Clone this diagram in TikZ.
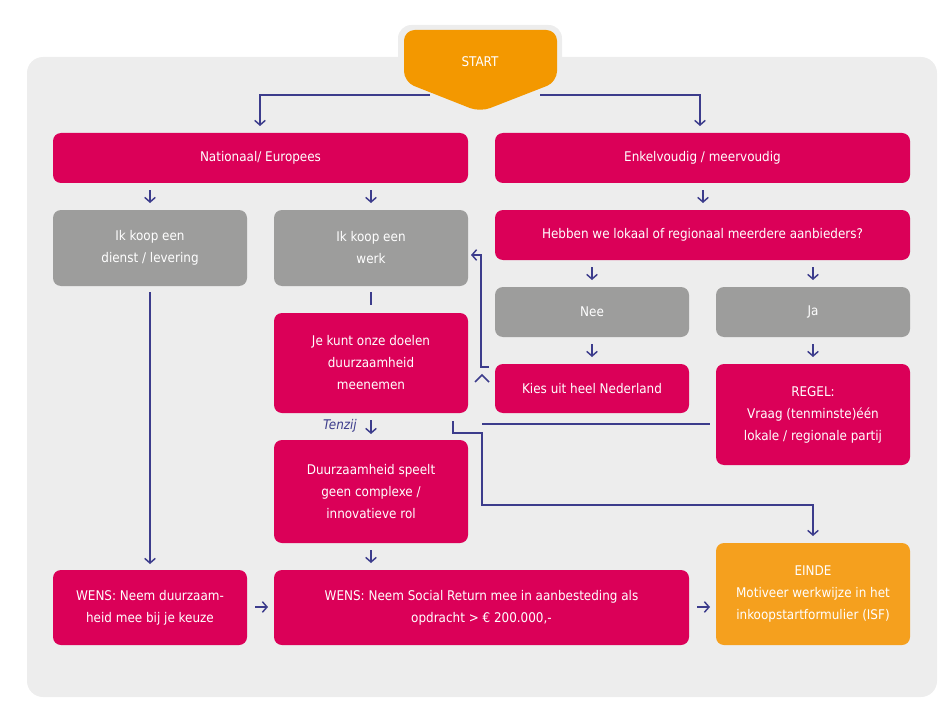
\documentclass[tikz,border=0pt]{standalone}
\usepackage{fontspec}
\setmainfont{DejaVu Sans Condensed}
\usetikzlibrary{arrows.meta}
\definecolor{mag}{HTML}{DB0058}
\definecolor{gry}{HTML}{9D9D9C}
\definecolor{org}{HTML}{F39800}
\definecolor{org2}{HTML}{F5A01E}
\definecolor{bgc}{HTML}{EDEDED}
\definecolor{ln}{HTML}{3C3C8C}
\newcommand\bx[7]{\node[box,fill=#2,minimum width={(#5-#3)*0.75pt},minimum height={(#6-#4)*0.75pt}] (#1) at ({(#3+#5)/2},{(#4+#6)/2}) {#7};}
\begin{document}
\begin{tikzpicture}[x=0.75pt,y=-0.75pt,
  box/.style={rounded corners=6pt,draw=none,text=white,align=center,inner sep=0pt,font=\fontsize{10}{16.5}\selectfont},
  con/.style={draw=ln,line width=1.1pt},
  arr/.style={con,-{Straight Barb[length=3.5pt,width=8pt,line width=1.1pt]}}]
\useasboundingbox (0,0) rectangle (949,706);
\fill[bgc,rounded corners=12pt] (27,57) rectangle (937,697);
\fill[bgc,rounded corners=10pt] (398,25) rectangle (562,70);
\fill[org,rounded corners=8pt] (404,30) -- (557,30) -- (557,82) -- (480,112) -- (404,82) -- cycle;
\node[box] (start) at (480,62) {START};
\bx{nat}{mag}{53}{133}{468}{183}{Nationaal/ Europees}
\bx{enk}{mag}{495}{133}{910}{183}{Enkelvoudig / meervoudig}
\bx{dienst}{gry}{53}{210}{247}{286}{Ik koop een\\dienst / levering}
\bx{werk}{gry}{274}{210}{468}{286}{Ik koop een\\werk}
\bx{heb}{mag}{495}{210}{910}{260}{Hebben we lokaal of regionaal meerdere aanbieders?}
\bx{nee}{gry}{495}{287}{689}{337}{Nee}
\bx{ja}{gry}{716}{287}{910}{337}{Ja}
\bx{jek}{mag}{274}{313}{468}{413}{Je kunt onze doelen\\duurzaamheid\\meenemen}
\bx{kies}{mag}{495}{364}{689}{413}{Kies uit heel Nederland}
\bx{regel}{mag}{716}{364}{910}{465}{REGEL:\\Vraag (tenminste)één\\lokale / regionale partij}
\bx{duur}{mag}{274}{440}{468}{543}{Duurzaamheid speelt\\geen complexe /\\innovatieve rol}
\bx{wensl}{mag}{53}{570}{247}{645}{WENS: Neem duurzaam-\\heid mee bij je keuze}
\bx{wensm}{mag}{274}{570}{689}{645}{WENS: Neem Social Return mee in aanbesteding als\\opdracht > € 200.000,-}
\bx{einde}{org2}{716}{543}{910}{645}{EINDE\\Motiveer werkwijze in het\\inkoopstartformulier (ISF)}
\draw[arr] (430,95) -- (260,95) -- (260,126);
\draw[arr] (540,95) -- (700,95) -- (700,126);
\draw[arr] (150,190) -- (150,203);
\draw[arr] (371,190) -- (371,203);
\draw[arr] (703,190) -- (703,203);
\draw[arr] (592,267) -- (592,280);
\draw[arr] (813,267) -- (813,280);
\draw[arr] (592,344) -- (592,357);
\draw[arr] (813,344) -- (813,357);
\draw[arr] (150,292) -- (150,564);
\draw[con] (371,292) -- (371,305);
\draw[arr] (489,367) -- (481,367) -- (481,255) -- (471,255);
\draw[con] (475,382) -- (482,375) -- (489,382);
\draw[con] (482,424) -- (710,424);
\draw[arr] (371,420) -- (371,434);
\node[font=\fontsize{10}{12}\selectfont\itshape,text=ln] (tz) at (340,426) {Tenzij};
\draw[arr] (453,421) -- (453,433) -- (482,433) -- (482,505) -- (813,505) -- (813,536);
\draw[arr] (371,550) -- (371,563);
\draw[arr] (255,607) -- (268,607);
\draw[arr] (697,607) -- (710,607);
\end{tikzpicture}
\end{document}
